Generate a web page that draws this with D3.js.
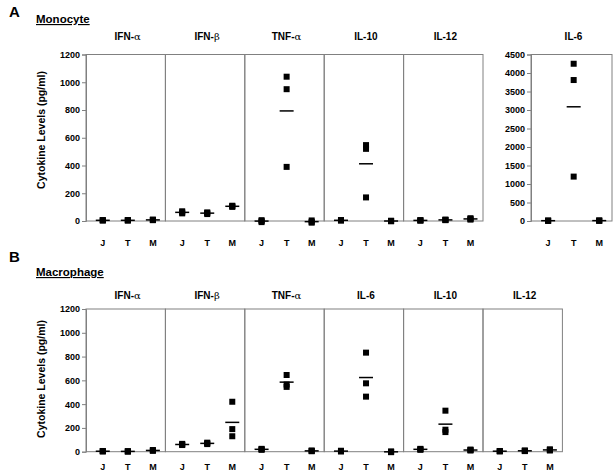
<!DOCTYPE html>
<html>
<head>
<meta charset="utf-8">
<script src="https://cdn.jsdelivr.net/npm/d3@7"></script>
<style>
  body { margin: 0; background: #fff; }
  svg { display: block; font-family: "Liberation Sans", Arial, sans-serif; }
  .tick-lbl { font-size: 9px; font-weight: bold; fill: #000; }
  .ttl { font-size: 10px; font-weight: bold; }
  .greek { font-family: "DejaVu Serif", serif; font-weight: normal; }
</style>
</head>
<body>
<svg id="chart" width="615" height="473"></svg>
<script>
"use strict";

// donor groups on the x axis
const groups = ["J", "T", "M"];

// Monocyte panel: each cytokine has [J values, T values, M values] (pg/ml)
const monoCytokines = ["IFN-α", "IFN-β", "TNF-α", "IL-10", "IL-12"];
const monoIFNa = [[4, 6, 5], [5, 3, 7], [6, 10, 8]];
const monoIFNb = [[55, 70, 62], [50, 62, 58], [102, 110, 106]];
const monoTNFa = [[-8, 6, 0], [1040, 950, 390], [-12, 4, -6]];
const monoIL10 = [[4, 6, 5], [547, 520, 170], [0, 2, -2]];
const monoIL12 = [[3, 6, 4], [6, 10, 8], [10, 20, 15]];
const monoIL6 = [[5, 12, 8], [4250, 3810, 1200], [6, 14, 10]];

// Macrophage panel
const macroCytokines = ["IFN-α", "IFN-β", "TNF-α", "IL-6", "IL-10", "IL-12"];
const macroIFNa = [[2, 6, 4], [1, 4, 3], [8, 14, 10]];
const macroIFNb = [[56, 66, 60], [64, 76, 70], [420, 190, 130]];
const macroTNFa = [[16, 24, 20], [645, 565, 545], [4, 10, 7]];
const macroIL6 = [[2, 8, 5], [833, 575, 463], [-4, 2, -1]];
const macroIL10 = [[16, 24, 20], [345, 185, 165], [10, 18, 14]];
const macroIL12 = [[3, 6, 4], [5, 10, 8], [10, 20, 15]];

const yTicks = [0, 200, 400, 600, 800, 1000, 1200];
const yTicksIL6 = [0, 500, 1000, 1500, 2000, 2500, 3000, 3500, 4000, 4500];

const svg = d3.select("#chart");
const frameCol = "#808080";

// draws one boxed panel with J/T/M dots + mean bars
function drawPanel(x0, x1, y, label, data, titleGap, xLblGap) {
  const g = svg.append("g");
  const x = d3.scaleLinear().domain([0.33, 3.5]).range([x0, x1]);
  const [yb, yt] = y.range();

  g.append("rect")
    .attr("x", x0).attr("y", yt)
    .attr("width", x1 - x0).attr("height", yb - yt)
    .attr("fill", "none").attr("stroke", frameCol).attr("stroke-width", 1);

  // title with greek letter in a lighter serif face
  const t = g.append("text").attr("class", "ttl")
    .attr("x", (x0 + x1) / 2 + 2).attr("y", yt - titleGap)
    .attr("text-anchor", "middle");
  const m = label.match(/^(.*?)([αβ])$/);
  if (m) {
    t.append("tspan").text(m[1]);
    t.append("tspan").attr("class", "greek").text(m[2]);
  } else {
    t.text(label);
  }

  groups.forEach((grp, i) => {
    const cx = x(i + 1);
    g.append("text").attr("class", "tick-lbl")
      .attr("x", cx).attr("y", yb + xLblGap)
      .attr("text-anchor", "middle").text(grp);

    g.selectAll(null).data(data[i]).enter().append("rect")
      .attr("x", cx - 3).attr("y", (d) => y(d) - 3)
      .attr("width", 6).attr("height", 6)
      .attr("fill", "#000");

    const mean = d3.mean(data[i]);
    g.append("line")
      .attr("x1", cx - 7).attr("x2", cx + 7)
      .attr("y1", y(mean)).attr("y2", y(mean))
      .attr("stroke", "#000").attr("stroke-width", 1.5);
  });
}

function drawYAxis(xPos, y, ticks) {
  const ax = svg.append("g").attr("transform", `translate(${xPos},0)`)
    .call(d3.axisLeft(y).tickValues(ticks).tickFormat(d3.format("d")).tickSize(4).tickPadding(2));
  ax.select(".domain").attr("stroke", frameCol);
  ax.selectAll(".tick line").attr("stroke", frameCol);
  ax.selectAll(".tick text").attr("class", "tick-lbl").attr("font-family", null).attr("font-size", null);
}

function yTitle(cy) {
  svg.append("text")
    .attr("transform", `translate(45,${cy}) rotate(-90)`)
    .attr("text-anchor", "middle")
    .style("font-size", "10.5px").style("font-weight", "bold")
    .text("Cytokine Levels (pg/ml)");
}

function heading(letter, name, yLetter, yName) {
  svg.append("text").attr("x", 9).attr("y", yLetter)
    .style("font-size", "15px").style("font-weight", "bold").text(letter);
  svg.append("text").attr("x", 36).attr("y", yName)
    .style("font-size", "11.5px").style("font-weight", "bold")
    .style("text-decoration", "underline").text(name);
}

const panelW = 79.4;
const left = 86;

// ---- A: Monocyte
heading("A", "Monocyte", 17, 23);
const yA = d3.scaleLinear().domain([0, 1200]).range([221, 54.5]);
drawYAxis(left, yA, yTicks);
yTitle(130);
[monoIFNa, monoIFNb, monoTNFa, monoIL10, monoIL12].forEach((d, i) => {
  drawPanel(left + i * panelW, left + (i + 1) * panelW, yA, monoCytokines[i], d, 14.5, 25);
});
const yA6 = d3.scaleLinear().domain([0, 4500]).range([221, 54.5]);
drawYAxis(531, yA6, yTicksIL6);
drawPanel(531, 612, yA6, "IL-6", monoIL6, 14.5, 25);

// ---- B: Macrophage
heading("B", "Macrophage", 262, 276);
const yB = d3.scaleLinear().domain([0, 1200]).range([451.7, 309]);
drawYAxis(left, yB, yTicks);
yTitle(379);
[macroIFNa, macroIFNb, macroTNFa, macroIL6, macroIL10, macroIL12].forEach((d, i) => {
  drawPanel(left + i * panelW, left + (i + 1) * panelW, yB, macroCytokines[i], d, 10, 18);
});
</script>
</body>
</html>
